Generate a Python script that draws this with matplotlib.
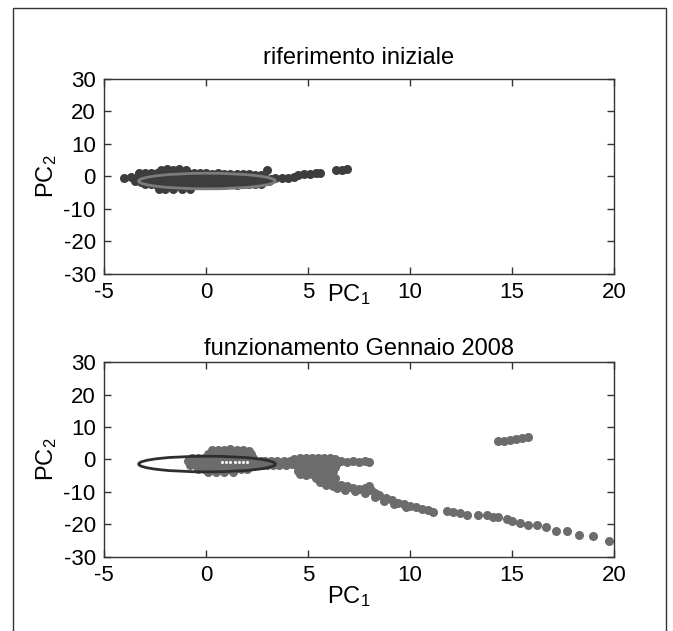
import matplotlib
matplotlib.use("Agg")
import matplotlib.pyplot as plt
from matplotlib.patches import Ellipse, Rectangle

plt.rcParams['font.family'] = ['Liberation Sans', 'DejaVu Sans']
plt.rcParams['mathtext.default'] = 'regular'
plt.rcParams['axes.unicode_minus'] = False
plt.rcParams['font.size'] = 16

# --- riferimento iniziale (reference scores) ---
ref_x = [
    # row y ~ 1.0
    -3.3, -3.0, -2.7, -2.4, -2.1, -1.8, -1.5, -1.2, -0.9, -0.6, -0.3, 0.0, 0.3, 0.6, 0.9, 1.2, 1.5, 1.8, 2.1, 2.4, 2.7,
    # row y ~ -0.3
    -4.0, -3.7, -3.4, -3.1, -2.8, -2.5, -2.2, -1.9, -1.6, -1.3, -1.0, -0.7, -0.4, -0.1, 0.2, 0.5, 0.8, 1.1, 1.4, 1.7, 2.0, 2.3, 2.6, 2.9, 3.2,
    # row y ~ -1.6
    -3.5, -3.2, -2.9, -2.6, -2.3, -2.0, -1.7, -1.4, -1.1, -0.8, -0.5, -0.2, 0.1, 0.4, 0.7, 1.0, 1.3, 1.6, 1.9, 2.2, 2.5, 2.8, 3.1,
    # row y ~ -2.4
    -3.0, -2.7, -2.4, -2.1, -1.8, -1.5, -1.2, -0.9, -0.6, -0.3, 0.0, 0.3, 0.6, 0.9, 1.2, 1.5, 1.8, 2.1, 2.4, 2.7,
    # bumps
    -2.2, -1.9, -1.6, -1.3, -1.0, 3.0,
    -2.3, -2.0, -1.6, -1.2, -0.8,
    # tail
    3.4, 3.7, 4.0, 4.3, 4.5, 4.8, 5.1, 5.4, 5.6,
    6.35, 6.65, 6.9,
]
ref_y = (
    [1.0, 1.1, 1.0, 1.2, 1.3, 1.2, 1.3, 1.2, 1.1, 1.2, 1.0, 1.1, 0.9, 1.0, 0.9, 0.8, 0.9, 0.7, 0.8, 0.6, 0.5]
    + [-0.5, -0.3, -0.4, -0.3, -0.3, -0.2, -0.3, -0.2, -0.3, -0.2, -0.3, -0.2, -0.3, -0.2, -0.3, -0.2, -0.3, -0.2, -0.3, -0.3, -0.4, -0.4, -0.5, -0.6, -0.7]
    + [-1.5, -1.6, -1.6, -1.7, -1.6, -1.7, -1.6, -1.7, -1.6, -1.7, -1.6, -1.7, -1.6, -1.7, -1.6, -1.7, -1.6, -1.6, -1.7, -1.6, -1.6, -1.5, -1.4]
    + [-2.2, -2.4, -2.5, -2.5, -2.6, -2.5, -2.6, -2.5, -2.6, -2.5, -2.5, -2.6, -2.5, -2.5, -2.4, -2.5, -2.4, -2.3, -2.3, -2.2]
    + [2.1, 2.4, 2.0, 2.3, 2.0, 1.9]
    + [-3.7, -3.9, -3.8, -3.9, -3.7]
    + [-0.5, -0.5, -0.4, -0.3, 0.6, 0.7, 0.8, 1.0, 1.2]
    + [2.1, 2.1, 2.3]
)

# --- funzionamento Gennaio 2008 (monitored scores) ---
jan_x = [
    # main cluster over the ellipse
    0.3, 0.6, 0.9, 1.2, 1.5, 1.8, 2.1,
    0.1, 0.4, 0.7, 1.0, 1.3, 1.6, 1.9, 2.2,
    -0.7, -0.4, -0.1, 0.2, 0.5, 0.8, 1.1, 1.4, 1.7, 2.0, 2.3,
    -0.9, -0.6, -0.3, 0.0, 0.3, 0.6, 0.9, 1.2, 1.5, 1.8, 2.1, 2.4, 2.7,
    -0.8, -0.5, -0.2, 0.1, 0.4, 0.7, 1.0, 1.3, 1.6, 1.9, 2.2, 2.5, 2.8,
    -0.4, -0.1, 0.2, 0.5, 0.8, 1.1, 1.4, 1.7, 2.0,
    0.1, 0.5, 0.9, 1.3,
    # bridge
    2.9, 3.2, 3.5, 3.8, 4.1,
    3.0, 3.3, 3.6, 3.9, 4.2,
    # cluster around PC1 = 5
    4.3, 4.6, 4.9, 5.2, 5.5, 5.8, 6.1, 6.3,
    4.3, 4.6, 4.9, 5.2, 5.5, 5.8, 6.1, 6.4,
    4.5, 4.8, 5.1, 5.4, 5.7, 6.0, 6.3,
    4.5, 4.8, 5.1, 5.4, 5.7, 6.0, 6.2,
    4.6, 4.9, 5.2, 5.5, 5.8, 6.1,
    5.4, 5.7, 6.0, 6.3,
    5.6, 5.9, 6.2,
    5.9, 6.2,
    # right arm
    6.6, 6.9, 7.2, 7.5, 7.8, 8.0,
    # descending branch
    6.3, 6.6, 6.9, 7.2, 7.5, 7.8, 8.0, 8.1, 8.3, 8.5, 8.8, 9.1, 9.4, 9.7, 10.0, 10.3, 10.6, 10.9, 11.1,
    6.4, 6.8, 7.3, 7.8, 8.3, 8.7, 9.2, 9.8,
    11.8, 12.12, 12.45, 12.78, 13.35, 13.76, 14.08, 14.33, 14.74, 14.98, 15.39, 15.8,
    16.23, 16.67, 17.16, 17.71, 18.3, 18.98, 19.77,
    # upper right group
    14.3, 14.6, 14.9, 15.2, 15.5, 15.8,
]
jan_y = (
    [2.8, 3.0, 2.9, 3.1, 2.9, 2.8, 2.6]
    + [1.8] * 8
    + [0.6] * 11
    + [-0.6] * 13
    + [-1.8] * 13
    + [-3.0] * 9
    + [-3.8] * 4
    + [-0.5, -0.6, -0.6, -0.5, -0.5]
    + [-1.6, -1.7, -1.6, -1.6, -1.5]
    + [0.3, 0.4, 0.5, 0.4, 0.5, 0.6, 0.5, 0.3]
    + [-1.0] * 8
    + [-2.3] * 7
    + [-3.6] * 7
    + [-4.6, -4.8, -4.6, -4.6, -4.5, -4.6]
    + [-5.8, -5.9, -5.8, -5.8]
    + [-7.0, -7.1, -7.0]
    + [-8.0, -8.2]
    + [-0.6, -0.7, -0.6, -0.7, -0.6, -0.7]
    + [-7.6, -7.9, -8.3, -8.8, -9.0, -8.8, -8.3, -9.3, -10.3, -11.0, -12.0, -12.6, -13.3, -13.8, -14.2, -14.6, -15.1, -15.6, -16.1]
    + [-8.8, -9.3, -9.8, -10.3, -11.5, -12.8, -13.6, -14.6]
    + [-15.8, -16.1, -16.6, -17.1, -17.1, -17.1, -17.6, -17.6, -18.2, -18.9, -19.5, -20.2]
    + [-20.2, -20.7, -21.9, -21.9, -23.1, -23.6, -25.0]
    + [5.7, 5.8, 6.0, 6.3, 6.5, 6.8]
)

# white marks inside the ellipse (monitored panel)
mean_x = [0.8, 1.0, 1.2, 1.4, 1.6, 1.8, 2.0]
mean_y = [-0.7, -0.7, -0.7, -0.7, -0.7, -0.7, -0.7]

# confidence ellipse of the reference model
ell_center = (0.05, -1.4)
ell_width = 6.7
ell_height = 4.8

xticks = [-5, 0, 5, 10, 15, 20]
yticks = [-30, -20, -10, 0, 10, 20, 30]

fig = plt.figure(figsize=(6.73, 6.31), dpi=100)
fig.patches.append(Rectangle((0.019, -0.1), 0.970, 1.087, transform=fig.transFigure,
                             fill=False, edgecolor='#333333', linewidth=1.0))

ax1 = fig.add_axes([0.1545, 0.5658, 0.758, 0.309])
ax2 = fig.add_axes([0.1545, 0.1173, 0.758, 0.309])

ax1.plot(ref_x, ref_y, 'o', color='#3d3d3d', markersize=6.5, markeredgewidth=0)
ax1.add_patch(Ellipse(ell_center, ell_width, ell_height, fill=False,
                      edgecolor='#7c7c7c', linewidth=2.0, zorder=3))

ax2.plot(jan_x, jan_y, 'o', color='#6c6c6c', markersize=6.5, markeredgewidth=0)
ax2.add_patch(Ellipse(ell_center, ell_width, ell_height, fill=False,
                      edgecolor='#2e2e2e', linewidth=2.0, zorder=3))
ax2.plot(mean_x, mean_y, 's', color='white', markersize=1.0, zorder=4)

for ax in (ax1, ax2):
    ax.set_xlim(-5, 20)
    ax.set_ylim(-30, 30)
    ax.set_xticks(xticks)
    ax.set_yticks(yticks)
    ax.tick_params(direction='in', top=True, right=True, length=5, width=1,
                   color='#333333', pad=6, labelsize=16)
    for sp in ax.spines.values():
        sp.set_color('#333333')
        sp.set_linewidth(1.0)
    ax.set_ylabel('PC$_2$', fontsize=17, labelpad=3)

ax1.set_title('riferimento iniziale', fontsize=17, pad=11)
ax1.set_xlabel('PC$_1$', fontsize=17)
ax1.xaxis.set_label_coords(0.48, -0.04)

ax2.set_title('funzionamento Gennaio 2008', fontsize=17, pad=5)
ax2.set_xlabel('PC$_1$', fontsize=17)
ax2.xaxis.set_label_coords(0.48, -0.14)

plt.savefig('out.png', dpi=100)
